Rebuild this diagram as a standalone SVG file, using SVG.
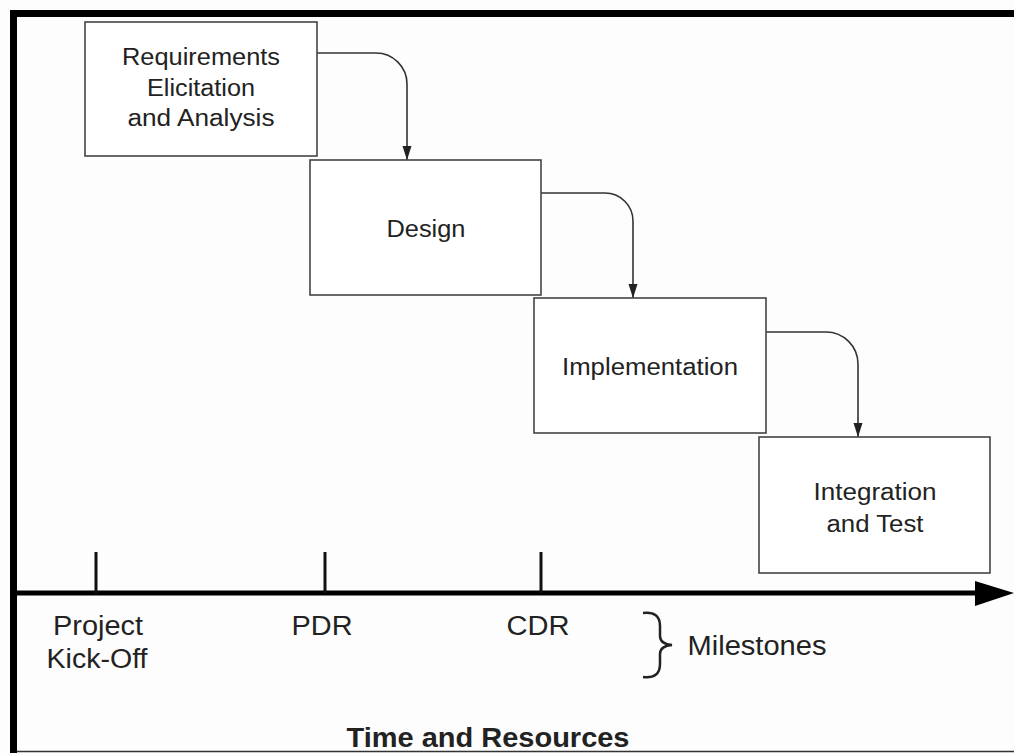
<svg xmlns="http://www.w3.org/2000/svg" width="1014" height="753" viewBox="0 0 1014 753">
<defs>
<style>
.box{fill:#fff;stroke:#444;stroke-width:1.6}
.t{font-family:"Liberation Sans",Arial,sans-serif;fill:#222;text-anchor:middle}
.bt{font-size:23px}
.lt{font-size:27px}
.conn{fill:none;stroke:#333;stroke-width:1.6}
</style>
<marker id="ah" markerUnits="userSpaceOnUse" markerWidth="14" markerHeight="10" refX="14" refY="4.5" orient="auto">
<path d="M0,0 L14,4.5 L0,9 z" fill="#222"/>
</marker>
</defs>
<rect x="0" y="0" width="1014" height="753" fill="#fdfdfd"/>
<!-- frame -->
<rect x="10" y="10" width="1004" height="7" fill="#000"/>
<rect x="10" y="10" width="7" height="743" fill="#000"/>
<line x1="17" y1="751.5" x2="1014" y2="751.5" stroke="#333" stroke-width="1.5"/>

<g id="connectors">
<path class="conn" d="M317,53 H376 A31,31 0 0 1 407,84 V160" marker-end="url(#ah)"/>
<path class="conn" d="M541,193 H605 A28,28 0 0 1 633,221 V298" marker-end="url(#ah)"/>
<path class="conn" d="M766,332 H826 A32,32 0 0 1 858,364 V437" marker-end="url(#ah)"/>
</g>

<g id="node-requirements">
<rect class="box" x="85" y="22" width="232" height="134"/>
<text class="t bt" x="201" y="65" textLength="158" lengthAdjust="spacingAndGlyphs">Requirements</text>
<text class="t bt" x="201" y="96" textLength="108" lengthAdjust="spacingAndGlyphs">Elicitation</text>
<text class="t bt" x="201" y="126" textLength="147" lengthAdjust="spacingAndGlyphs">and Analysis</text>
</g>
<g id="node-design">
<rect class="box" x="310" y="160" width="231" height="135"/>
<text class="t bt" x="426" y="237" textLength="79" lengthAdjust="spacingAndGlyphs">Design</text>
</g>
<g id="node-implementation">
<rect class="box" x="534" y="298" width="232" height="135"/>
<text class="t bt" x="650" y="375" textLength="176" lengthAdjust="spacingAndGlyphs">Implementation</text>
</g>
<g id="node-integration">
<rect class="box" x="759" y="437" width="231" height="136"/>
<text class="t bt" x="875" y="500" textLength="123" lengthAdjust="spacingAndGlyphs">Integration</text>
<text class="t bt" x="875" y="532" textLength="97" lengthAdjust="spacingAndGlyphs">and Test</text>
</g>

<g id="timeline">
<line x1="17" y1="593" x2="978" y2="593" stroke="#000" stroke-width="5"/>
<polygon points="975,581 1014,593 975,606" fill="#000"/>
<line x1="96" y1="552" x2="96" y2="593" stroke="#111" stroke-width="3"/>
<line x1="325" y1="552" x2="325" y2="593" stroke="#111" stroke-width="3"/>
<line x1="541" y1="552" x2="541" y2="593" stroke="#111" stroke-width="3"/>
</g>

<g id="milestone-labels">
<text class="t lt" x="98" y="635" textLength="90" lengthAdjust="spacingAndGlyphs">Project</text>
<text class="t lt" x="97" y="668" textLength="101" lengthAdjust="spacingAndGlyphs">Kick-Off</text>
<text class="t lt" x="322" y="635" textLength="61" lengthAdjust="spacingAndGlyphs">PDR</text>
<text class="t lt" x="538" y="635" textLength="63" lengthAdjust="spacingAndGlyphs">CDR</text>
<path d="M643,613 Q660,611 660,626 V636 Q660,644 672,645 Q660,646 660,654 V664 Q660,679 643,677" fill="none" stroke="#222" stroke-width="2.5"/>
<text class="t lt" x="757" y="655" textLength="139" lengthAdjust="spacingAndGlyphs">Milestones</text>
<text class="t" x="488" y="747" font-size="28" font-weight="bold" fill="#111" textLength="283" lengthAdjust="spacingAndGlyphs">Time and Resources</text>
</g>
</svg>
